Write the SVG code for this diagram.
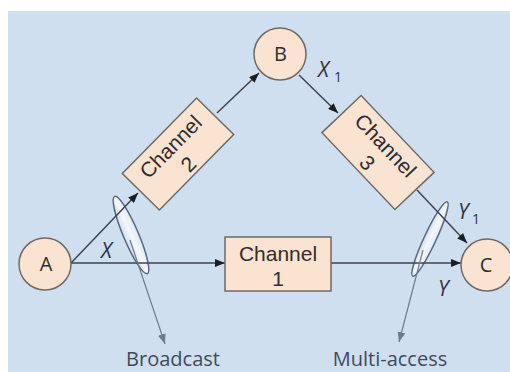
<svg xmlns="http://www.w3.org/2000/svg" width="510" height="372" viewBox="0 0 510 372">
<defs>
<marker id="ah" viewBox="0 0 10 8" refX="10" refY="4" markerWidth="10" markerHeight="8" markerUnits="userSpaceOnUse" orient="auto">
<path d="M0,0 L10,4 L0,8 Z" fill="#1a1f26"/>
</marker>
<marker id="ahg" viewBox="0 0 10 8" refX="10" refY="4" markerWidth="10" markerHeight="8" markerUnits="userSpaceOnUse" orient="auto">
<path d="M0,0 L10,4 L0,8 Z" fill="#6f7c8a"/>
</marker>
<linearGradient id="eg" x1="0" y1="0" x2="1" y2="0">
<stop offset="0" stop-color="#cfdff0"/>
<stop offset="0.5" stop-color="#f4f7fb"/>
<stop offset="1" stop-color="#dde8f4"/>
</linearGradient>
</defs>
<style>
.node{fill:#fae3d0;stroke:#6e6a66;stroke-width:1.5}
.lbl{font-family:"Open Sans","Noto Sans",sans-serif;font-size:20px;fill:#2e2e2e;text-anchor:middle}
.ch{font-family:"Liberation Sans",Arial,sans-serif;font-size:21px;fill:#2e2e2e;text-anchor:middle}
.var{font-family:"Open Sans","Noto Sans",sans-serif;font-size:21px;font-style:italic;fill:#2e3440}
.sub{font-family:"Open Sans","Noto Sans",sans-serif;font-size:14px;fill:#2e3440}
.cap{font-family:"Open Sans","Noto Sans",sans-serif;font-size:20px;fill:#3d4b5c;text-anchor:middle}
.ln{stroke:#3c4550;stroke-width:1.5;fill:none}
.gl{stroke:#6f7c8a;stroke-width:1.2;fill:none}
.ell{fill:url(#eg);stroke:#56687c;stroke-width:1.5}
</style>
<rect x="8" y="11" width="502" height="361" fill="#cfdff0"/>

<g id="ellipses">
<ellipse class="ell" cx="131" cy="235" rx="7.5" ry="42" transform="rotate(-23 131 235)"/>
<ellipse class="ell" cx="430" cy="239" rx="6" ry="41" transform="rotate(25 430 239)"/>
</g>

<g id="connectors">
<line class="ln" x1="71" y1="263" x2="138" y2="193" marker-end="url(#ah)"/>
<line class="ln" x1="217" y1="113" x2="259" y2="73" marker-end="url(#ah)"/>
<line class="ln" x1="299" y1="75" x2="338" y2="113" marker-end="url(#ah)"/>
<line class="ln" x1="417" y1="190" x2="467" y2="243" marker-end="url(#ah)"/>
<line class="ln" x1="71" y1="263" x2="225" y2="263" marker-end="url(#ah)"/>
<line class="ln" x1="331" y1="263" x2="461" y2="263" marker-end="url(#ah)"/>
<line class="gl" x1="130" y1="240" x2="165" y2="344" marker-end="url(#ahg)"/>
<line class="gl" x1="423" y1="250" x2="399" y2="342" marker-end="url(#ahg)"/>
</g>

<g id="nodeA">
<circle class="node" cx="45" cy="264" r="26"/>
<text class="lbl" x="46" y="271">A</text>
</g>
<g id="nodeB">
<circle class="node" cx="280" cy="54" r="26"/>
<text class="lbl" x="280.5" y="61">B</text>
</g>
<g id="nodeC">
<circle class="node" cx="487" cy="265" r="26"/>
<text class="lbl" x="486" y="272">C</text>
</g>
<g id="channel1">
<rect class="node" x="225" y="237" width="106" height="54"/>
<text class="ch" x="278" y="261">Channel</text>
<text class="ch" x="278" y="286">1</text>
</g>
<g id="channel2" transform="translate(178 154) rotate(-45.5)">
<rect class="node" x="-53" y="-26" width="106" height="52"/>
<text class="ch" x="0" y="-3">Channel</text>
<text class="ch" x="0" y="22">2</text>
</g>
<g id="channel3" transform="translate(378 152.5) rotate(46.5)">
<rect class="node" x="-53" y="-27" width="106" height="54"/>
<text class="ch" x="0" y="-3">Channel</text>
<text class="ch" x="0" y="22">3</text>
</g>

<g id="labels">
<text class="var" x="101" y="258">X</text>
<text class="var" x="318" y="77">X</text><text class="sub" x="334" y="82">1</text>
<text class="var" x="458" y="219">Y</text><text class="sub" x="472" y="224">1</text>
<text class="var" x="438" y="296">Y</text>
<text class="cap" x="173" y="366">Broadcast</text>
<text class="cap" x="390" y="366">Multi-access</text>
</g>
</svg>
